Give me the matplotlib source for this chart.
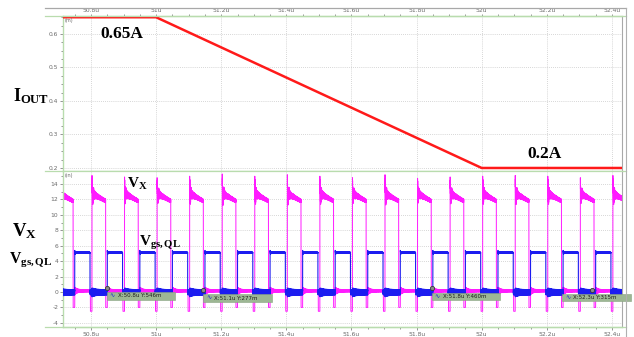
import numpy as np
import matplotlib
matplotlib.use("Agg")
import matplotlib.pyplot as plt
from matplotlib.patches import Rectangle
from matplotlib.lines import Line2D
from matplotlib.ticker import FixedLocator, MultipleLocator

# ---------------- data ----------------
# output current step (time in us, current in A)
iout_t = [50.70, 51.00, 52.00, 52.45]
iout_a = [0.65, 0.65, 0.20, 0.20]

# switch-node rising edges (us) and the overshoot peak of each pulse (V)
vx_rise = [50.703, 50.803, 50.903, 51.003, 51.103, 51.203, 51.303, 51.403, 51.503,
           51.603, 51.703, 51.803, 51.903, 52.003, 52.103, 52.203, 52.303, 52.403]
vx_peak = [14.0, 14.6, 14.4, 14.3, 14.5, 14.8, 14.5, 14.7, 14.5,
           14.3, 14.7, 14.2, 14.4, 14.5, 14.6, 14.5, 14.3, 14.6]
vx_on = 0.042          # high-side on time per cycle (us)
vx_plateau = [12.8, 11.8]   # plateau level at start / end of the on time (V)
vx_dead_dip = [-2.0, -2.5]  # reverse-conduction level in the two dead times (V)

# low-side gate drive, edges relative to each switch-node rise (us)
vgs_on_off = [0.047, 0.094]
vgs_high = 5.1

# scope cursors
cursor_t = [50.848, 51.145, 51.846, 52.340]
cursor_v = [0.546, 0.277, 0.460, 0.315]

x_ticks = [50.8, 51.0, 51.2, 51.4, 51.6, 51.8, 52.0, 52.2, 52.4]
x_tick_labels = ["50.8u", "51u", "51.2u", "51.4u", "51.6u", "51.8u", "52u", "52.2u", "52.4u"]
i_ticks = [0.2, 0.3, 0.4, 0.5, 0.6]
v_ticks = [-4, -2, 0, 2, 4, 6, 8, 10, 12, 14]

# ---------------- waveforms ----------------
t = np.arange(vx_rise[0], 52.45, 0.00005)
k = np.searchsorted(vx_rise, t, side="right") - 1
tr = np.asarray(vx_rise)[k]
pk = np.asarray(vx_peak)[k]
dt = t - tr
two_pi = 2 * np.pi

# switch node
base = vx_plateau[0] + (vx_plateau[1] - vx_plateau[0]) * dt / vx_on
ring = (pk - vx_plateau[0]) * np.exp(-dt / 0.004) * np.cos(two_pi * 220 * dt)
fuzz = (0.25 + 0.5 * np.exp(-dt / 0.012)) * np.sin(two_pi * 2300 * dt) \
       * (0.7 + 0.3 * np.sin(two_pi * 410 * dt))
high_wave = base + ring + fuzz

d = dt - vx_on
low_wave = 0.15 + (0.15 + 0.7 * np.exp(-np.clip(d, 0, None) / 0.008)) \
           * np.sin(two_pi * 1900 * d) * (0.8 + 0.2 * np.cos(two_pi * 530 * d))
low_wave = np.where((d >= 0) & (d < vgs_on_off[0] - vx_on), vx_dead_dip[0], low_wave)
low_wave = np.where(dt >= vgs_on_off[1] + 0.001, vx_dead_dip[1], low_wave)
vx = np.where(dt < vx_on, high_wave, low_wave)

# low-side gate
dg = dt - vgs_on_off[0]
g_high = vgs_high + 0.25 * np.exp(-np.clip(dg, 0, None) / 0.003) * np.cos(two_pi * 300 * dg) \
         + 0.06 * np.sin(two_pi * 1700 * dg)
g_low = -0.05 + (0.35 + 0.25 * np.exp(-dt / 0.015)) * np.sin(two_pi * 1500 * dt) \
        * (0.75 + 0.25 * np.sin(two_pi * 370 * dt))
vgs = np.where((dt >= vgs_on_off[0]) & (dt < vgs_on_off[1]), g_high, g_low)

# ---------------- figure ----------------
plt.rcParams["mathtext.fontset"] = "custom"
plt.rcParams["mathtext.rm"] = "Liberation Serif"
plt.rcParams["mathtext.bf"] = "Liberation Serif:bold"
plt.rcParams["mathtext.it"] = "Liberation Serif:italic"

W, H = 634, 337
fig = plt.figure(figsize=(W / 100, H / 100), dpi=100)
fig.patch.set_facecolor("white")


def fx(px):
    return px / W


def fy(py):
    return 1 - py / H


left, right = 63, 622
ax1 = fig.add_axes([fx(left), fy(171), fx(right - left), (171 - 16) / H])
ax2 = fig.add_axes([fx(left), fy(327), fx(right - left), (327 - 171) / H])

green = "#b9dcae"
tick_col = "#6a6a6a"
grid_kw = dict(color="#c9c9c9", linestyle=(0, (1, 1.5)), linewidth=0.6)
xlim = (50.714, 52.431)

for ax in (ax1, ax2):
    ax.set_xlim(*xlim)
    for s in ("left", "top", "bottom"):
        ax.spines[s].set_color(green)
        ax.spines[s].set_linewidth(1.0)
    ax.spines["right"].set_color("#a8a8a8")
    ax.spines["right"].set_linewidth(0.8)
    ax.xaxis.set_major_locator(FixedLocator(x_ticks))
    ax.xaxis.set_minor_locator(MultipleLocator(0.05))
    ax.grid(True, which="major", **grid_kw)
    ax.tick_params(which="both", colors=tick_col, labelsize=4.3, length=2.2, width=0.5, pad=1.2)
    ax.tick_params(which="minor", length=1.4)
    ax.set_axisbelow(True)

# top panel: output current
ax1.set_ylim(0.191, 0.6537)
ax1.yaxis.set_major_locator(FixedLocator(i_ticks))
ax1.yaxis.set_minor_locator(MultipleLocator(0.025))
ax1.set_yticklabels([f"{v:.1f}" for v in i_ticks])
ax1.xaxis.tick_top()
ax1.set_xticklabels(x_tick_labels)
ax1.tick_params(axis="x", which="major", length=1.5, pad=0.3)
ax1.tick_params(axis="x", which="minor", length=1.2)
ax1.plot(iout_t, iout_a, color="#ff1a1a", linewidth=1.8, solid_capstyle="butt", zorder=3)
ax1.text(0.003, 0.985, "(m)", transform=ax1.transAxes, fontsize=3.6, color=tick_col,
         va="top", ha="left")

# bottom panel: switch node and gate
ax2.set_ylim(-4.54, 15.69)
ax2.yaxis.set_major_locator(FixedLocator(v_ticks))
ax2.yaxis.set_minor_locator(MultipleLocator(1))
ax2.set_yticklabels([str(v) for v in v_ticks])
ax2.set_xticklabels(x_tick_labels)
ax2.spines["top"].set_visible(False)
ax2.plot(t, vx, color="#ff1aff", linewidth=0.7, zorder=2)
ax2.plot(t, vgs, color="#1c1cf0", linewidth=0.8, zorder=3)
ax2.text(0.003, 0.985, "(in)", transform=ax2.transAxes, fontsize=3.6, color=tick_col,
         va="top", ha="left")

# cursors
box_w, box_h = 0.211, 0.92
for tc, vc in zip(cursor_t, cursor_v):
    bx = min(tc, 52.459 - box_w)
    top = vc - 0.6
    ax2.add_patch(Rectangle((bx, top - box_h), box_w, box_h, facecolor="#9db794",
                            edgecolor="#88a380", linewidth=0.4, zorder=5, clip_on=False))
    ax2.text(bx + 0.008, top - box_h / 2, "\u223f", color="#2030d0", fontsize=4.5,
             va="center", ha="left", zorder=6, clip_on=False)
    ax2.text(bx + 0.034, top - box_h / 2, f"X:{tc:.1f}u Y:{vc * 1000:.0f}m",
             color="#1e1e1e", fontsize=4.0, va="center", ha="left", zorder=6, clip_on=False)
    ax2.plot([tc], [vc], "o", ms=3, mfc="#8a8a8a", mec="#3a3a3a", mew=0.6, zorder=7)

# frame lines of the scope display
for py, col in ((8, "#a8a8a8"), (16, green), (171, green), (327, green)):
    fig.add_artist(Line2D([fx(45), fx(626)], [fy(py), fy(py)], color=col, linewidth=0.9))
fig.add_artist(Line2D([fx(626), fx(626)], [fy(8), fy(337)], color="#b0b0b0", linewidth=0.8))

# annotations
serif_b = dict(family="Liberation Serif", weight="bold", color="black")
fig.text(fx(100), fy(38), "0.65A", fontsize=12.5, va="baseline", ha="left", **serif_b)
fig.text(fx(527), fy(158), "0.2A", fontsize=12.5, va="baseline", ha="left", **serif_b)
fig.text(fx(13), fy(101), r"$\mathbf{I_{OUT}}$", fontsize=13, va="baseline", ha="left")
fig.text(fx(12), fy(236), r"$\mathbf{V_{X}}$", fontsize=13.5, va="baseline", ha="left")
fig.text(fx(9), fy(263), r"$\mathbf{V_{gs,QL}}$", fontsize=11.3, va="baseline", ha="left")
fig.text(fx(127), fy(188), r"$\mathbf{V_{X}}$", fontsize=11, va="baseline", ha="left")
fig.text(fx(139), fy(246), r"$\mathbf{V_{gs,QL}}$", fontsize=11, va="baseline", ha="left")

fig.savefig("out.png", dpi=100, facecolor="white")
